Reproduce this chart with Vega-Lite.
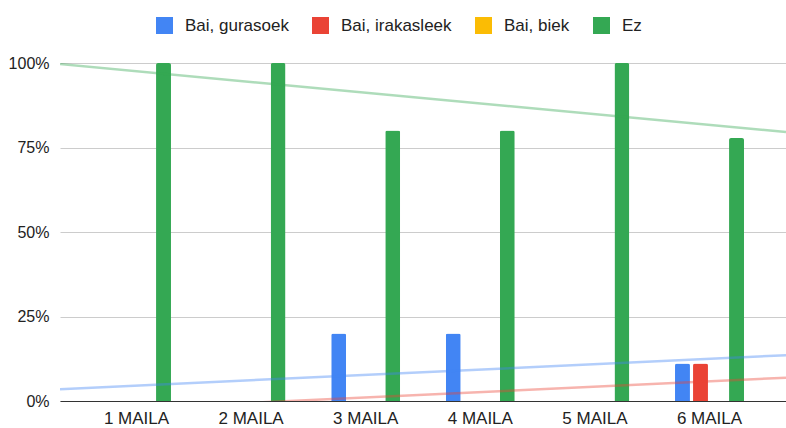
{
  "$schema": "https://vega.github.io/schema/vega-lite/v6.json",
  "width": 726,
  "height": 338,
  "autosize": "none",
  "padding": {"left": 60, "top": 63, "right": 0, "bottom": 27},
  "background": "white",
  "config": {"view": {"stroke": null}, "font": "Liberation Sans"},
  "data": {
    "values": [
      {"maila": "1 MAILA", "level": 1, "series": "Bai, gurasoek", "value": 0},
      {"maila": "1 MAILA", "level": 1, "series": "Bai, irakasleek", "value": 0},
      {"maila": "1 MAILA", "level": 1, "series": "Bai, biek", "value": 0},
      {"maila": "1 MAILA", "level": 1, "series": "Ez", "value": 1},
      {"maila": "2 MAILA", "level": 2, "series": "Bai, gurasoek", "value": 0},
      {"maila": "2 MAILA", "level": 2, "series": "Bai, irakasleek", "value": 0},
      {"maila": "2 MAILA", "level": 2, "series": "Bai, biek", "value": 0},
      {"maila": "2 MAILA", "level": 2, "series": "Ez", "value": 1},
      {"maila": "3 MAILA", "level": 3, "series": "Bai, gurasoek", "value": 0.2},
      {"maila": "3 MAILA", "level": 3, "series": "Bai, irakasleek", "value": 0},
      {"maila": "3 MAILA", "level": 3, "series": "Bai, biek", "value": 0},
      {"maila": "3 MAILA", "level": 3, "series": "Ez", "value": 0.8},
      {"maila": "4 MAILA", "level": 4, "series": "Bai, gurasoek", "value": 0.2},
      {"maila": "4 MAILA", "level": 4, "series": "Bai, irakasleek", "value": 0},
      {"maila": "4 MAILA", "level": 4, "series": "Bai, biek", "value": 0},
      {"maila": "4 MAILA", "level": 4, "series": "Ez", "value": 0.8},
      {"maila": "5 MAILA", "level": 5, "series": "Bai, gurasoek", "value": 0},
      {"maila": "5 MAILA", "level": 5, "series": "Bai, irakasleek", "value": 0},
      {"maila": "5 MAILA", "level": 5, "series": "Bai, biek", "value": 0},
      {"maila": "5 MAILA", "level": 5, "series": "Ez", "value": 1},
      {"maila": "6 MAILA", "level": 6, "series": "Bai, gurasoek", "value": 0.1111},
      {"maila": "6 MAILA", "level": 6, "series": "Bai, irakasleek", "value": 0.1111},
      {"maila": "6 MAILA", "level": 6, "series": "Bai, biek", "value": 0},
      {"maila": "6 MAILA", "level": 6, "series": "Ez", "value": 0.7778}
    ]
  },
  "layer": [
    {
      "mark": {"type": "bar", "cornerRadiusTopLeft": 2, "cornerRadiusTopRight": 2},
      "encoding": {
        "x": {
          "field": "maila", "type": "nominal", "sort": null,
          "scale": {"paddingInner": 0.398, "paddingOuter": 0.3665},
          "axis": {"title": null, "labelAngle": 0, "labelFontSize": 17, "labelColor": "#222", "labelPadding": 9, "ticks": false, "domainColor": "#333", "domainWidth": 1, "grid": false, "zindex": 1}
        },
        "xOffset": {
          "field": "series", "type": "nominal",
          "sort": ["Bai, gurasoek", "Bai, irakasleek", "Bai, biek", "Ez"],
          "scale": {"paddingInner": 0.17, "paddingOuter": 0}
        },
        "y": {
          "field": "value", "type": "quantitative",
          "scale": {"domain": [0, 1], "nice": false},
          "axis": {"title": null, "format": ".0%", "values": [0, 0.25, 0.5, 0.75, 1], "labelFontSize": 16, "labelColor": "#222", "labelPadding": 11, "ticks": false, "domain": false, "gridColor": "#ccc"}
        },
        "color": {
          "field": "series", "type": "nominal",
          "sort": ["Bai, gurasoek", "Bai, irakasleek", "Bai, biek", "Ez"],
          "scale": {"domain": ["Bai, gurasoek", "Bai, irakasleek", "Bai, biek", "Ez"], "range": ["#4285F4", "#EA4335", "#FBBC04", "#34A853"]},
          "legend": {
            "title": null, "orient": "none", "direction": "horizontal", "legendX": 96, "legendY": -46,
            "padding": 0, "symbolType": "square", "symbolSize": 289, "symbolStrokeWidth": 0, "symbolOpacity": 1,
            "labelFontSize": 17, "labelColor": "#222", "labelOffset": 12, "columnPadding": 23
          }
        }
      }
    },
    {
      "transform": [
        {"filter": "datum.series !== 'Bai, biek'"},
        {"regression": "value", "on": "level", "groupby": ["series"], "extent": [0.3325, 6.6675]}
      ],
      "mark": {"type": "line", "strokeWidth": 2.5, "strokeOpacity": 0.4, "clip": true},
      "encoding": {
        "x": {"field": "level", "type": "quantitative", "scale": {"domain": [0.3325, 6.6675], "nice": false, "zero": false}, "axis": null},
        "y": {"field": "value", "type": "quantitative"},
        "color": {"field": "series", "type": "nominal"}
      }
    }
  ],
  "resolve": {"scale": {"x": "independent"}}
}
